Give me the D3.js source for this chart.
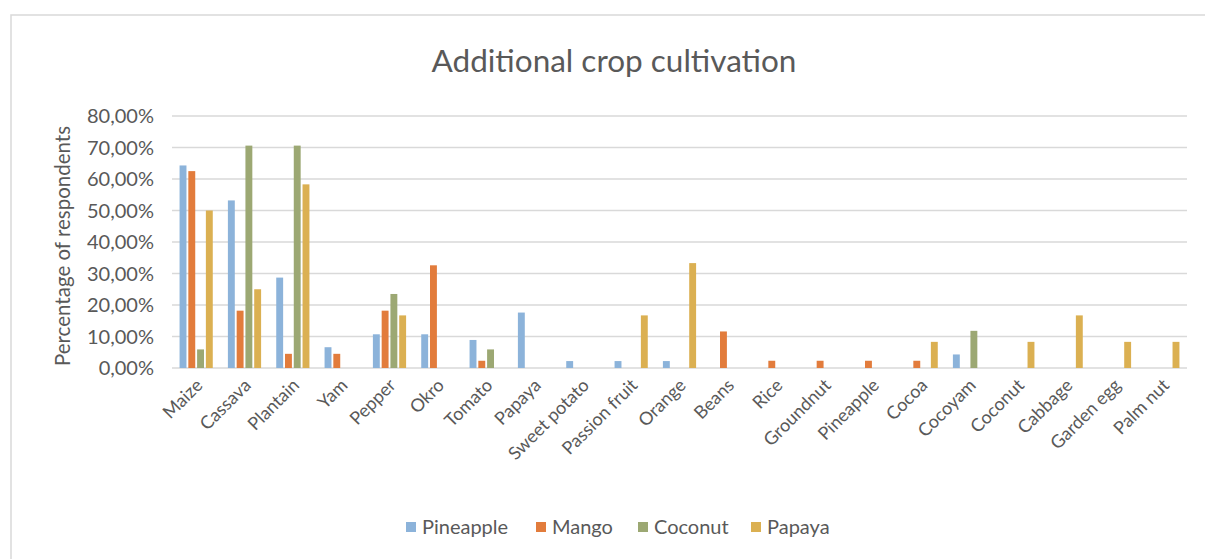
<!DOCTYPE html>
<html lang="en">
<head>
  <meta charset="UTF-8">
  <title>Additional crop cultivation</title>
  <script src="https://d3js.org/d3.v7.min.js"></script>
  <style>
    body { margin: 0; background: #fff; }
    text { font-family: Lato, "Open Sans", sans-serif; fill: #595959; }
  </style>
</head>
<body>
<svg width="1205" height="559"></svg>
<script>
  // data (percent of respondents)
  var categories = ["Maize", "Cassava", "Plantain", "Yam", "Pepper", "Okro", "Tomato", "Papaya",
    "Sweet potato", "Passion fruit", "Orange", "Beans", "Rice", "Groundnut", "Pineapple",
    "Cocoa", "Cocoyam", "Coconut", "Cabbage", "Garden egg", "Palm nut"];
  var seriesNames = ["Pineapple", "Mango", "Coconut", "Papaya"];
  var pineapple = [64.3, 53.2, 28.7, 6.6, 10.7, 10.7, 8.9, 17.6, 2.2, 2.2, 2.2, 0, 0, 0, 0, 0, 4.3, 0, 0, 0, 0];
  var mango     = [62.5, 18.2, 4.5, 4.5, 18.2, 32.6, 2.3, 0, 0, 0, 0, 11.6, 2.3, 2.3, 2.3, 2.3, 0, 0, 0, 0, 0];
  var coconut   = [5.9, 70.6, 70.6, 0, 23.5, 0, 5.9, 0, 0, 0, 0, 0, 0, 0, 0, 0, 11.8, 0, 0, 0, 0];
  var papaya    = [50, 25, 58.3, 0, 16.7, 0, 0, 0, 0, 16.7, 33.3, 0, 0, 0, 0, 8.3, 0, 8.3, 16.7, 8.3, 8.3];
  var yTicks = [0, 10, 20, 30, 40, 50, 60, 70, 80];
  var colors = ["#8cb3da", "#e27c3c", "#9ca873", "#dbb052"];

  var allSeries = [pineapple, mango, coconut, papaya];

  var svg = d3.select("svg");

  // frame
  svg.append("rect").attr("x", 11).attr("y", 15).attr("width", 1200).attr("height", 560)
    .attr("fill", "none").attr("stroke", "#d9d9d9").attr("stroke-width", 1.5);

  var plotLeft = 172, plotRight = 1187, plotTop = 116, plotBottom = 368;

  var x0 = d3.scaleBand().domain(categories).range([plotLeft, plotRight])
    .paddingInner(0.313).paddingOuter(0.1565);
  var x1 = d3.scaleBand().domain(seriesNames).range([0, x0.bandwidth()])
    .paddingInner(0.213);
  var y = d3.scaleLinear().domain([0, 80]).range([plotBottom, plotTop]);

  // gridlines
  svg.append("g").selectAll("line").data(yTicks).enter().append("line")
    .attr("x1", plotLeft).attr("x2", plotRight)
    .attr("y1", function (d) { return y(d); }).attr("y2", function (d) { return y(d); })
    .attr("stroke", "#d9d9d9").attr("stroke-width", 1.3);

  // y tick labels
  svg.append("g").selectAll("text").data(yTicks).enter().append("text")
    .attr("x", 154).attr("y", function (d) { return y(d); })
    .attr("dy", "0.35em").attr("text-anchor", "end")
    .style("font-size", "20px")
    .text(function (d) { return d3.format(".2f")(d).replace(".", ",") + "%"; });

  // bars
  var groups = svg.append("g").selectAll("g").data(categories).enter().append("g")
    .attr("transform", function (d) { return "translate(" + x0(d) + ",0)"; });
  groups.selectAll("rect")
    .data(function (d, i) {
      return seriesNames.map(function (s, j) { return { s: s, v: allSeries[j][i], c: colors[j] }; });
    })
    .enter().append("rect")
    .filter(function (d) { return d.v > 0; })
    .attr("x", function (d) { return x1(d.s); })
    .attr("width", x1.bandwidth())
    .attr("y", function (d) { return y(d.v); })
    .attr("height", function (d) { return y(0) - y(d.v); })
    .attr("fill", function (d) { return d.c; });

  // x labels
  svg.append("g").selectAll("text").data(categories).enter().append("text")
    .attr("transform", function (d) {
      return "translate(" + (x0(d) + x0.bandwidth() / 2 + 3) + "," + (plotBottom + 14) + ") rotate(-45)";
    })
    .attr("text-anchor", "end").attr("dy", "0.35em")
    .style("font-size", "18px")
    .text(function (d) { return d; });

  // title
  svg.append("text").attr("x", 614).attr("y", 72).attr("text-anchor", "middle")
    .style("font-size", "31.5px").text("Additional crop cultivation");

  // y axis title
  svg.append("text").attr("transform", "translate(70,246) rotate(-90)")
    .attr("text-anchor", "middle").style("font-size", "20.5px")
    .text("Percentage of respondents");

  // legend
  var legendX = [406, 536, 638, 751];
  var legend = svg.append("g").selectAll("g").data(seriesNames).enter().append("g")
    .attr("transform", function (d, i) { return "translate(" + legendX[i] + ",527)"; });
  legend.append("rect").attr("x", 0).attr("y", -5).attr("width", 10).attr("height", 10)
    .attr("fill", function (d, i) { return colors[i]; });
  legend.append("text").attr("x", 16).attr("dy", "0.35em")
    .style("font-size", "20px").text(function (d) { return d; });
</script>
</body>
</html>
